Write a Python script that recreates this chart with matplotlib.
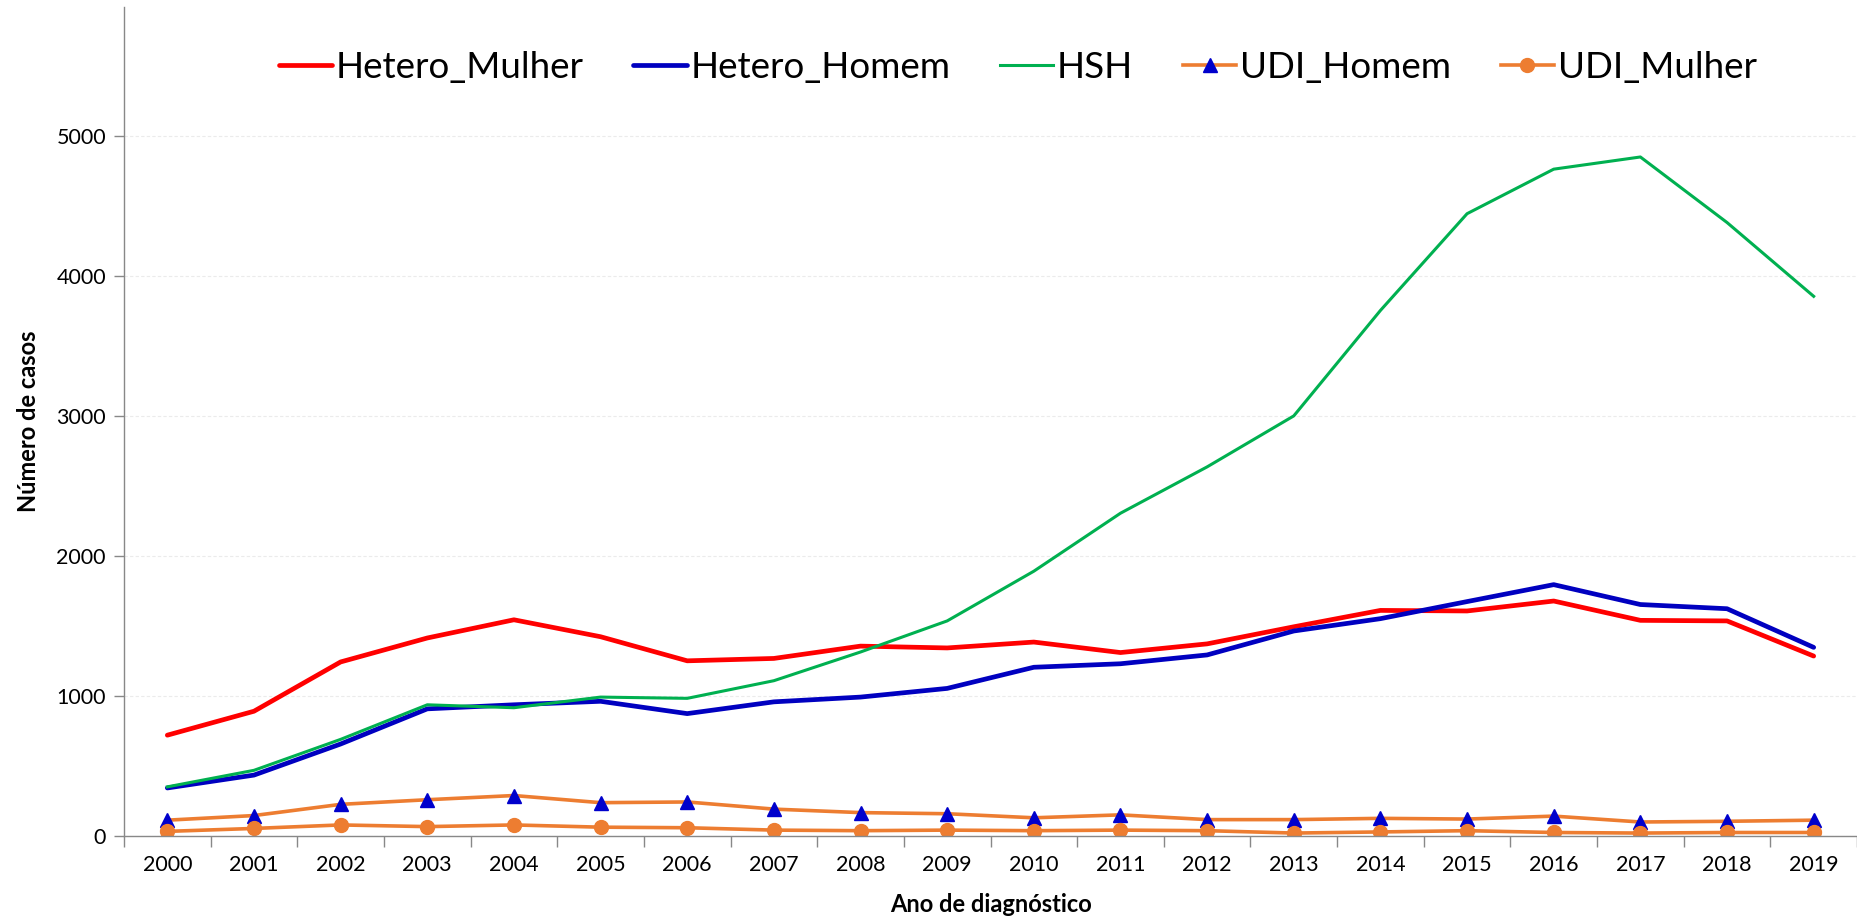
import matplotlib
matplotlib.use("Agg")
import matplotlib.pyplot as plt

plt.rcParams['font.family'] = ['Lato', 'DejaVu Sans']

anos = [str(a) for a in range(2000, 2020)]

hetero_mulher = [720, 891, 1243, 1414, 1544, 1423, 1251, 1268, 1356, 1343,
                 1385, 1310, 1372, 1494, 1611, 1607, 1678, 1540, 1536, 1285]
hetero_homem = [343, 435, 657, 908, 937, 962, 874, 958, 992, 1054,
                1205, 1230, 1293, 1464, 1552, 1674, 1795, 1653, 1623, 1347]
hsh = [351, 469, 690, 937, 916, 992, 983, 1109, 1314, 1536,
       1891, 2305, 2636, 3000, 3753, 4444, 4762, 4849, 4381, 3854]
udi_homem = [113, 146, 226, 259, 289, 238, 243, 192, 167, 159,
             130, 151, 117, 117, 126, 121, 142, 100, 105, 113]
udi_mulher = [33, 54, 79, 67, 79, 63, 59, 42, 38, 42,
              38, 42, 38, 21, 29, 38, 25, 21, 25, 25]

fig = plt.figure(figsize=(18.57, 9.19), dpi=100)
ax = fig.add_axes([124/1857, 83/919, 1 - 124/1857, 829/919])

x = list(range(len(anos)))
ax.plot(x, hetero_mulher, color='#FF0000', lw=3.4, label='Hetero_Mulher', solid_capstyle='round')
ax.plot(x, hetero_homem, color='#0000C0', lw=3.4, label='Hetero_Homem', solid_capstyle='round')
ax.plot(x, hsh, color='#00B050', lw=2.2, label='HSH')
ax.plot(x, udi_homem, color='#ED7D31', lw=2.6, marker='^', markersize=10,
        markerfacecolor='#0000CC', markeredgecolor='#0000CC', label='UDI_Homem')
ax.plot(x, udi_mulher, color='#ED7D31', lw=2.6, marker='o', markersize=10,
        markerfacecolor='#ED7D31', markeredgecolor='#ED7D31', label='UDI_Mulher')

ax.set_xlim(-0.5, -0.5 + (1857 - 124) / 87.3)
ax.set_ylim(0, 5920)
ax.set_xticks(x)
ax.set_xticklabels(anos, fontsize=15.5)
ax.set_xticks([i - 0.5 for i in range(len(anos) + 1)], minor=True)
ax.tick_params(axis='x', which='major', length=0, pad=14)
ax.tick_params(axis='x', which='minor', length=8, color='#888888', width=1)
ax.set_yticks([0, 1000, 2000, 3000, 4000, 5000])
ax.tick_params(axis='y', labelsize=15.5, length=7, color='#888888', width=1, pad=6)

for s in ['top', 'right']:
    ax.spines[s].set_visible(False)
for s in ['left', 'bottom']:
    ax.spines[s].set_color('#888888')
    ax.spines[s].set_linewidth(1)

ax.yaxis.grid(True, color='#EBEBEB', linestyle=(0, (3, 2)), linewidth=0.8)
ax.set_axisbelow(True)

ax.set_ylabel('Número de casos', fontsize=17, fontweight='bold', labelpad=12)
ax.set_xlabel('Ano de diagnóstico', fontsize=17, fontweight='bold', labelpad=13)

fig.legend(loc='center', bbox_to_anchor=(0.548, 0.927), ncol=5, frameon=False,
           fontsize=26.5, handlelength=1.45, handletextpad=0.1, columnspacing=1.35)

fig.savefig('out.png', dpi=100)
